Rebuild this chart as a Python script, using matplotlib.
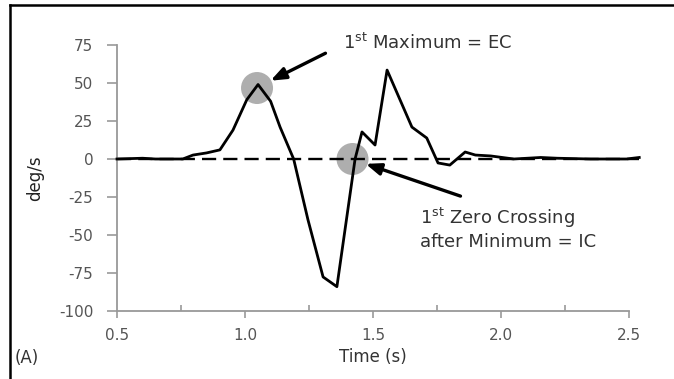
import matplotlib
matplotlib.use('Agg')
import matplotlib.pyplot as plt
from matplotlib.lines import Line2D
from matplotlib.patches import Ellipse
from matplotlib.ticker import MultipleLocator

plt.rcParams['font.family'] = ['DejaVu Sans']
plt.rcParams['mathtext.fontset'] = 'dejavusans'
plt.rcParams['axes.unicode_minus'] = False

# angular velocity trace
time_s = [0.50, 0.60, 0.65, 0.757, 0.797, 0.85, 0.902, 0.953, 1.007, 1.051,
          1.10, 1.137, 1.19, 1.246, 1.305, 1.359, 1.43, 1.457, 1.508, 1.555,
          1.652, 1.71, 1.754, 1.80, 1.86, 1.90, 1.96, 2.05, 2.155, 2.22,
          2.35, 2.49, 2.54]
deg_s = [0.0, 0.5, 0.0, 0.0, 2.6, 4.0, 6.0, 19.0, 39.0, 49.0,
         38.0, 21.0, 0.0, -40.0, -77.6, -84.0, 0.0, 17.8, 9.2, 58.5,
         21.0, 13.8, -2.6, -4.0, 4.6, 2.6, 2.0, 0.0, 1.0, 0.5,
         0.0, 0.0, 1.0]

ec_point = (1.047, 46.7)
ic_point = (1.42, 0.0)
yticks = [-100, -75, -50, -25, 0, 25, 50, 75]
xticks = [0.5, 1.0, 1.5, 2.0, 2.5]
xticklabels = ['0.5', '1.0', '1.5', '2.0', '2.5']

fig = plt.figure(figsize=(6.74, 3.79), dpi=100)
ax = fig.add_axes([117 / 674, 1 - 311 / 379, 512 / 674, 266 / 379])

ax.plot([0.5, 2.54], [0, 0], color='black', lw=1.7, ls=(0, (6, 3)), clip_on=False, zorder=2)
ax.plot(time_s, deg_s, color='black', lw=2.0, clip_on=False, zorder=3)

# grey highlight circles behind the trace (size in pixels, converted to data units)
px_x = 2.0 / 512
px_y = 175.0 / 266
for (cx, cy) in [ec_point, ic_point]:
    ax.add_patch(Ellipse((cx, cy), 32 * px_x, 32 * px_y, color='#a0a0a0', alpha=0.85, lw=0, zorder=1))

ax.annotate('', xy=(1.09, 50.7), xytext=(1.324, 70.4),
            arrowprops=dict(arrowstyle='-|>,head_length=0.9,head_width=0.35', color='black', lw=2.4),
            annotation_clip=False, zorder=5)
ax.annotate('', xy=(1.461, -2.6), xytext=(1.852, -25.0),
            arrowprops=dict(arrowstyle='-|>,head_length=0.9,head_width=0.35', color='black', lw=2.4),
            annotation_clip=False, zorder=5)

ax.text(1.383, 76.3, r'1$^{\mathrm{st}}$ Maximum = EC', fontsize=13, color='#333333',
        va='center', ha='left')
ax.text(1.684, -45.7, '1$^{\\mathrm{st}}$ Zero Crossing\nafter Minimum = IC', fontsize=13,
        color='#333333', va='center', ha='left', linespacing=1.15)

ax.set_xlim(0.5, 2.5)
ax.set_ylim(-100, 75)
ax.set_xticks(xticks)
ax.set_xticklabels(xticklabels)
ax.xaxis.set_minor_locator(MultipleLocator(0.25))
ax.set_yticks(yticks)

for side in ['top', 'right']:
    ax.spines[side].set_visible(False)
for side in ['left', 'bottom']:
    ax.spines[side].set_color('#999999')
    ax.spines[side].set_linewidth(1.3)

ax.tick_params(axis='both', which='major', colors='#999999', labelcolor='#555555',
               labelsize=11, width=1.2)
ax.tick_params(axis='y', length=7, pad=10)
ax.tick_params(axis='x', which='major', length=5, pad=7)
ax.tick_params(axis='x', which='minor', length=4, direction='in', colors='#999999', width=1.2)

ax.set_xlabel('Time (s)', fontsize=12, color='#333333', labelpad=4)
ax.set_ylabel('deg/s', fontsize=12, color='#222222', labelpad=11)

fig.text(15 / 674, 1 - 358 / 379, '(A)', fontsize=12, color='#333333', va='center', ha='left')

# border around the panel
fig.add_artist(Line2D([10 / 674, 1.0], [1 - 5 / 379, 1 - 5 / 379], color='black', lw=1.8))
fig.add_artist(Line2D([10 / 674, 10 / 674], [0.0, 1 - 5 / 379], color='black', lw=1.8))

fig.savefig('out.png', dpi=100)
